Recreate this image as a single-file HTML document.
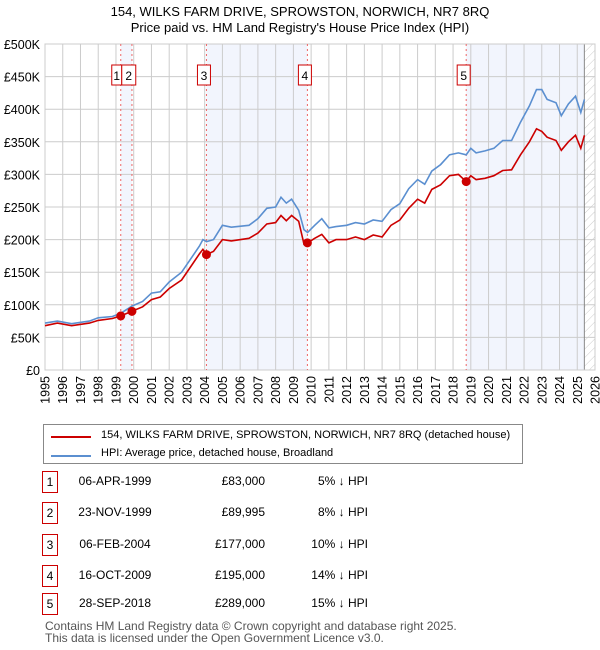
<!DOCTYPE html>
<html><head><meta charset="utf-8"><style>
body{margin:0;background:#fff;font-family:"Liberation Sans","DejaVu Sans",sans-serif;}
#wrap{position:relative;width:600px;height:650px;overflow:hidden;}
.t{position:absolute;font-size:12px;color:#000;white-space:nowrap;}
.nb{position:absolute;width:14px;height:20px;border:1px solid #c00;font-size:12px;text-align:center;line-height:20px;}
</style></head><body><div id="wrap">
<div class="t" style="left:0;width:600px;text-align:center;top:4px;font-size:13px">154, WILKS FARM DRIVE, SPROWSTON, NORWICH, NR7 8RQ</div>
<div class="t" style="left:0;width:600px;text-align:center;top:20px;font-size:13px">Price paid vs. HM Land Registry's House Price Index (HPI)</div>
<svg id="chart" width="600" height="412" style="position:absolute;left:0;top:0"></svg>
<div style="position:absolute;left:43px;top:424px;width:478px;height:38px;border:1px solid #888;"></div>
<div style="position:absolute;left:51px;top:436px;width:40px;height:2px;background:#c00"></div>
<div class="t" style="left:101px;top:429px;font-size:11px">154, WILKS FARM DRIVE, SPROWSTON, NORWICH, NR7 8RQ (detached house)</div>
<div style="position:absolute;left:51px;top:455px;width:40px;height:2px;background:#5b8fd0"></div>
<div class="t" style="left:101px;top:447px;font-size:11px">HPI: Average price, detached house, Broadland</div>
<div id="tbl"></div>
<div class="t" style="left:45px;top:619px;color:#555">Contains HM Land Registry data © Crown copyright and database right 2025.</div>
<div class="t" style="left:45px;top:631px;color:#555">This data is licensed under the Open Government Licence v3.0.</div>
</div>
<script>
const hpiYears=[1995.0,1995.7,1996.5,1997.5,1998.0,1998.8,1999.27,1999.9,2000.5,2001.0,2001.5,2002.0,2002.7,2003.2,2003.7,2003.9,2004.1,2004.5,2005.0,2005.5,2006.5,2007.0,2007.5,2008.0,2008.3,2008.6,2008.9,2009.3,2009.6,2009.8,2010.2,2010.6,2011.0,2011.4,2012.0,2012.5,2013.0,2013.5,2014.0,2014.5,2015.0,2015.5,2016.0,2016.4,2016.8,2017.3,2017.8,2018.3,2018.74,2019.0,2019.3,2019.8,2020.3,2020.8,2021.3,2021.8,2022.3,2022.7,2023.0,2023.3,2023.8,2024.1,2024.5,2024.9,2025.2,2025.4];
const hpiValues=[72,75,71,75,80,82,87,98,105,118,120,135,150,170,190,200,197,200,222,219,222,232,248,250,265,256,262,245,215,211,222,232,218,220,222,226,224,230,228,246,255,278,292,285,305,315,330,333,330,340,333,336,340,352,352,380,405,430,430,415,410,390,408,420,395,415];
const priceValues=[68,72,68,72,76,79,83,90,97,108,112,125,138,158,178,185,177,182,200,198,202,210,224,226,237,229,237,228,193,195,202,208,195,200,200,204,200,207,204,222,230,248,262,256,277,284,298,300,289,298,292,294,298,306,307,330,350,370,366,357,352,337,350,360,340,360];
const saleYears=[1999.27,1999.9,2004.1,2009.79,2018.74];
const salePrices=[83,90,177,195,289];
const saleDates=["06-APR-1999","23-NOV-1999","06-FEB-2004","16-OCT-2009","28-SEP-2018"];
const saleLabels=["£83,000","£89,995","£177,000","£195,000","£289,000"];
const salePct=["5% ↓ HPI","8% ↓ HPI","10% ↓ HPI","14% ↓ HPI","15% ↓ HPI"];
const yTicks=[0,50,100,150,200,250,300,350,400,450,500];
const yTickLabels=["£0","£50K","£100K","£150K","£200K","£250K","£300K","£350K","£400K","£450K","£500K"];
const x0=45,x1=595,y0=370,y1=44;
const X=v=>x0+(v-1995)/31*(x1-x0);
const Y=v=>y0-v/500*(y0-y1);
const svg=document.getElementById('chart');const NS='http://www.w3.org/2000/svg';
function mk(tag,at,parent){const e=document.createElementNS(NS,tag);for(const k in at)e.setAttribute(k,at[k]);(parent||svg).appendChild(e);return e;}
const defs=mk('defs',{});
const pat=mk('pattern',{id:'hatch',width:6,height:6,patternUnits:'userSpaceOnUse',patternTransform:'rotate(45)'},defs);
mk('line',{x1:0,y1:0,x2:0,y2:6,stroke:'#ccc','stroke-width':1},pat);
const shades=[[saleYears[0],saleYears[1]],[saleYears[2],saleYears[3]],[saleYears[4],2025.4]];
shades.forEach((s,i)=>{const r=mk('rect',{x:X(s[0]),y:y1,width:X(s[1])-X(s[0]),height:y0-y1,fill:'#edf2fc',opacity:0.75});

});
const h=mk('rect',{x:X(2025.4),y:y1,width:x1-X(2025.4),height:y0-y1,fill:'url(#hatch)'});


for(let yr=1995;yr<=2026;yr++){const x=X(yr);mk('line',{x1:x,x2:x,y1:y1,y2:y0,stroke:'#ccc','stroke-width':1});
const t=mk('text',{x:0,y:0,transform:'translate('+(x+4.5)+',376) rotate(-90)','text-anchor':'end','font-size':12.5,'font-family':'Liberation Sans, sans-serif'});t.textContent=yr;

}
yTicks.forEach((v,i)=>{const y=Y(v);mk('line',{x1:x0,x2:x1,y1:y,y2:y,stroke:'#ccc','stroke-width':1});
const t=mk('text',{x:40,y:y+5,'text-anchor':'end','font-size':12.5,'font-family':'Liberation Sans, sans-serif'});t.textContent=yTickLabels[i];

});
mk('line',{x1:X(2025.4),x2:X(2025.4),y1:y1,y2:y0,stroke:'#888','stroke-width':1});
mk('rect',{x:x0,y:y1,width:x1-x0,height:y0-y1,fill:'none',stroke:'#ccc'});
saleYears.forEach((s,i)=>{const x=X(s);
mk('line',{x1:x,x2:x,y1:y1,y2:y0,stroke:'#e66','stroke-width':1,'stroke-dasharray':'2,3'});
let bx,bw;
if(i==0){bx=x-9;bw=10;}else if(i==1){bx=X(saleYears[0])+1;bw=14;}else{bx=x-9;bw=13;}
const g=mk('g',{});


mk('rect',{x:bx,y:65,width:bw,height:20,fill:'#fff',stroke:'#c00'},g);
const t=mk('text',{x:bx+bw/2,y:80,'text-anchor':'middle','font-size':12,'font-family':'Liberation Sans, sans-serif'},g);t.textContent=i+1;});
const pts=a=>hpiYears.map((t,i)=>X(t).toFixed(1)+','+Y(a[i]).toFixed(1)).join(' ');
const hl=mk('polyline',{points:pts(hpiValues),fill:'none',stroke:'#5b8fd0','stroke-width':1.6});


const pl=mk('polyline',{points:pts(priceValues),fill:'none',stroke:'#c00','stroke-width':1.6});


saleYears.forEach((s,i)=>{const c=mk('circle',{cx:X(s),cy:Y(salePrices[i]),r:4.5,fill:'#c00'});

});
const tb=document.getElementById('tbl');const rows=[482,513,545,576,604];
saleDates.forEach((d,i)=>{const y=rows[i];
const b=document.createElement('div');b.className='nb';b.style.left='42px';b.style.top=(y-11)+'px';b.textContent=i+1;

tb.appendChild(b);
const mkT=(txt,l,w,al,nm)=>{const e=document.createElement('div');e.className='t';e.style.left=l+'px';e.style.width=w+'px';e.style.textAlign=al;e.style.top=(y-8)+'px';e.textContent=txt;

tb.appendChild(e);};
mkT(d,65,100,'center','table-date');mkT(saleLabels[i],165,100,'right','table-price');mkT(salePct[i],268,100,'right','table-hpi-diff');});
</script></body></html>
